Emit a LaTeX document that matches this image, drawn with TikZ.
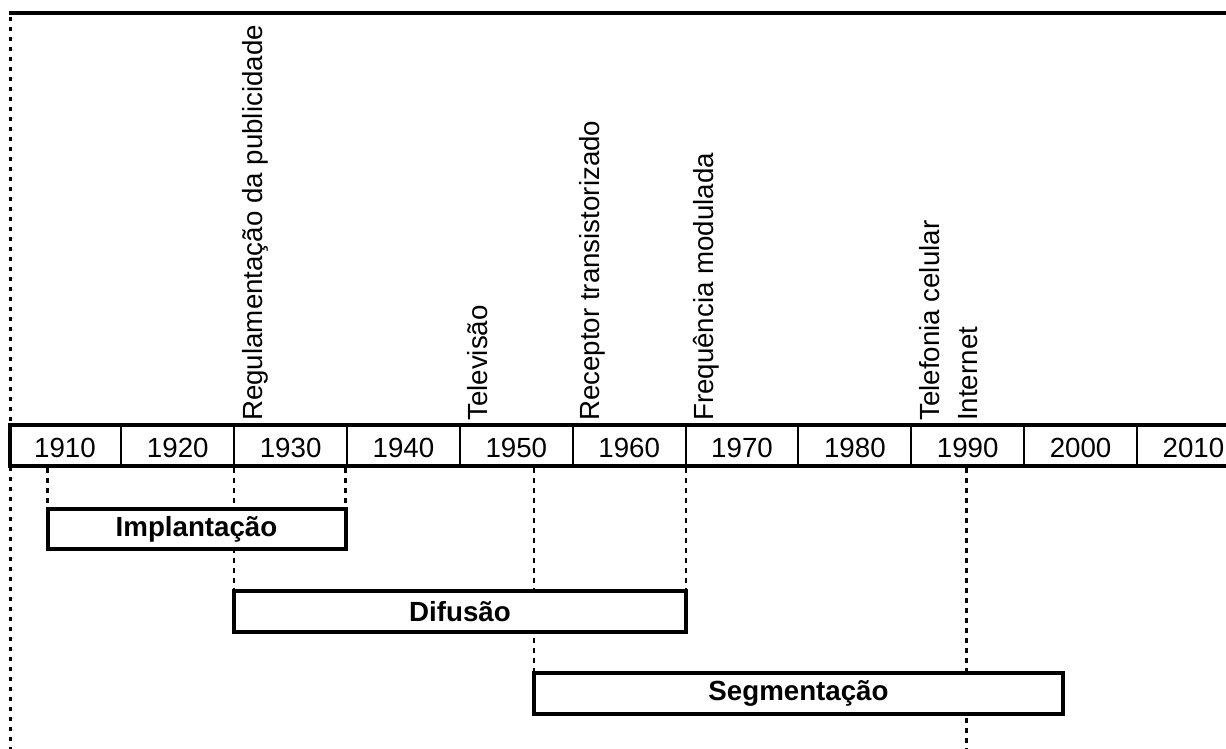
\documentclass[tikz,border=0pt]{standalone}
\usepackage{fontspec}
\setmainfont{Liberation Sans}
\begin{document}
\begin{tikzpicture}[x=1pt,y=-1pt,
  txt/.style={font=\fontsize{27.7}{33}\selectfont, inner sep=0pt},
  yeartext/.style={txt, anchor=base},
  eventlabel/.style={txt, rotate=90, anchor=base west},
  phase/.style={draw, line width=4pt, fill=white, inner sep=0pt,
    font=\fontsize{27.7}{33}\selectfont\bfseries},
  guide/.style={line width=2.3pt, dash pattern=on 5pt off 5pt},
  border/.style={line width=4pt},
  divider/.style={line width=2pt},
]
\useasboundingbox (0,0) rectangle (1226,749);
\clip (0,0) rectangle (1226,749);

% frame: solid top rule and dotted left rule
\coordinate (tl) at (9,13);
\coordinate (tr) at (1226,13);
\coordinate (ltop) at (10.5,17);
\coordinate (lbot) at (10.5,749);
\draw[border] (tl) -- (tr);
\draw[line width=3pt, dash pattern=on 4pt off 6pt] (ltop) -- (lbot);

% decade cells
\foreach \i/\yr in {0/1910,1/1920,2/1930,3/1940,4/1950,5/1960,6/1970,7/1980,8/1990,9/2000,10/2010}{
  \pgfmathsetmacro{\cx}{8.5+112.85*(\i+0.5)}
  \node[yeartext] (y\yr) at (\cx,457) {\yr};
}
\foreach \i in {1,...,11}{
  \pgfmathsetmacro{\dx}{8.5+112.85*\i}
  \coordinate (dt\i) at (\dx,425);
  \coordinate (db\i) at (\dx,466);
  \draw[divider] (dt\i) -- (db\i);
}
\coordinate (bartl) at (8.3,425.3);
\coordinate (bartr) at (1240,425.3);
\coordinate (barbl) at (8.3,466.3);
\coordinate (barbr) at (1240,466.3);
\coordinate (barlt) at (10.3,423.3);
\coordinate (barlb) at (10.3,468.3);
\draw[border] (bartl) -- (bartr);
\draw[border] (barbl) -- (barbr);
\draw[border] (barlt) -- (barlb);

% events above the bar
\node[eventlabel] (reg)   at (262,421) {Regulamentação da publicidade};
\node[eventlabel] (tv)    at (487,421) {Televisão};
\node[eventlabel] (trans) at (599,421) {Receptor transistorizado};
\node[eventlabel] (fm)    at (713,421) {Frequência modulada};
\node[eventlabel] (cel)   at (939,421) {Telefonia celular};
\node[eventlabel] (net)   at (977,421) {Internet};

% guides from the bar down to the phase boxes
\coordinate (g1) at (47.5,468);
\coordinate (g2) at (234,468);
\coordinate (g3) at (345.5,468);
\coordinate (g4) at (534,468);
\coordinate (g5) at (686,468);
\coordinate (g6) at (966,468);
\coordinate (implnw) at (47.5,509);
\coordinate (implne) at (345.5,509);
\coordinate (difnw) at (234,591);
\coordinate (difne) at (686,591);
\coordinate (segnw) at (534,673);
\coordinate (g6end) at (966,749);
\draw[guide] (g1) -- (implnw);
\draw[guide] (g3) -- (implne);
\draw[guide] (g2) -- (difnw);
\draw[guide] (g5) -- (difne);
\draw[guide] (g4) -- (segnw);
\draw[guide, line width=3pt] (g6) -- (g6end);

% phase boxes, filled so they cover the guides
\node[phase, minimum width=298pt, minimum height=40pt] (impl) at (196.5,529) {Implantação};
\node[phase, minimum width=452pt, minimum height=41pt] (dif) at (460,611.5) {Difusão};
\node[phase, minimum width=529pt, minimum height=41pt] (seg) at (798.5,693.5) {Segmentação};
\end{tikzpicture}
\end{document}
